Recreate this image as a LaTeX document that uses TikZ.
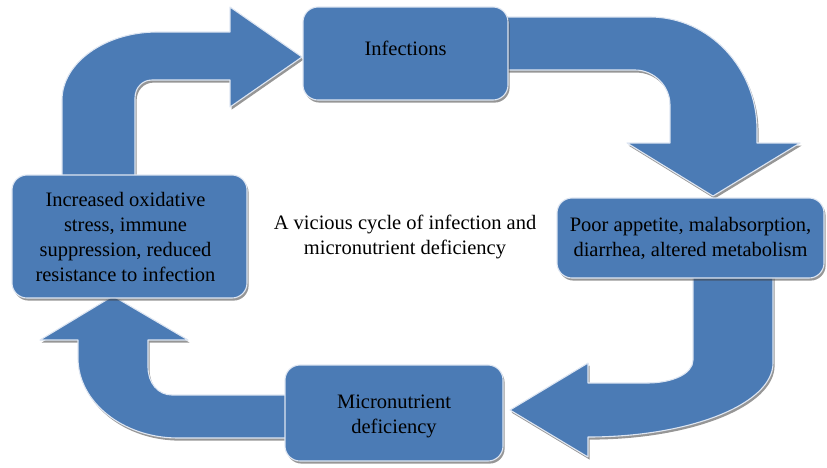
\documentclass[tikz,border=0pt]{standalone}
\usepackage{fontspec}
\setmainfont{Liberation Serif}
\usetikzlibrary{shadows}
\definecolor{boxblue}{RGB}{75,123,181}
\definecolor{rimc}{RGB}{222,230,242}
\tikzset{
  blockfill/.style={fill=boxblue, draw=rimc, line width=1.1pt, line join=round,
    drop shadow={shadow xshift=1.6pt, shadow yshift=-2.6pt, opacity=0.55, fill=black!75}},
  stepbox/.style={blockfill, rounded corners=15pt, inner sep=0pt},
  lbl/.style={align=center, text=black, inner sep=0pt, font=\fontsize{20.5}{25}\selectfont},
}
\begin{document}
\begin{tikzpicture}[x=1pt,y=-1pt]
\useasboundingbox (0,0) rectangle (827,467);
% block arrows (drawn beneath the boxes)
\path[blockfill] (62,182) -- (62,100) .. controls (62,63) and (105,32) .. (157,32)
  -- (230,32) -- (230,7) -- (302,57) -- (230,107) -- (230,80) -- (152,80)
  .. controls (142,80) and (135,88) .. (135,98) -- (135,182) -- cycle;
\path[blockfill] (500,17) -- (650,17) .. controls (709,17) and (757,68) .. (757,130)
  -- (757,143) -- (800,143) -- (713,196) -- (627,143) -- (670,143) -- (670,105)
  .. controls (670,86) and (654,70) .. (635,70) -- (500,70) -- cycle;
\path[blockfill] (693,270) -- (773,270) -- (773,363) .. controls (773,404) and (690,437) .. (588,437)
  -- (588,457) -- (510,410) -- (588,363) -- (588,383) -- (647,383)
  .. controls (672,383) and (693,374) .. (693,360) -- cycle;
\path[blockfill] (295,395) -- (172,395) .. controls (158,395) and (148,383) .. (148,367)
  -- (148,340) -- (188,340) -- (113,296) -- (40,340) -- (78,340) -- (78,358)
  .. controls (78,402) and (123,438) .. (178,438) -- (295,438) -- cycle;
% boxes
\node[stepbox, minimum width=205pt, minimum height=93pt] (inf) at (405.5,53.5) {};
\node[stepbox, minimum width=267pt, minimum height=80pt] (poor) at (690.5,238) {};
\node[stepbox, minimum width=235pt, minimum height=123pt] (ox) at (129.5,236.5) {};
\node[stepbox, minimum width=218pt, minimum height=96pt] (mic) at (394,413) {};
% texts
\node[lbl] (tinf) at ([yshift=5pt]inf.center) {Infections};
\node[lbl] (tpoor) at (poor.center) {Poor appetite, malabsorption,\\diarrhea, altered metabolism};
\node[lbl] (tox) at ([xshift=-4pt]ox.center) {Increased oxidative\\stress, immune\\suppression, reduced\\resistance to infection};
\node[lbl] (tmic) at ([yshift=-3pt]mic.center) {Micronutrient\\deficiency};
\node[lbl] (title) at (405,237) {A vicious cycle of infection and\\micronutrient deficiency};
\end{tikzpicture}
\end{document}
